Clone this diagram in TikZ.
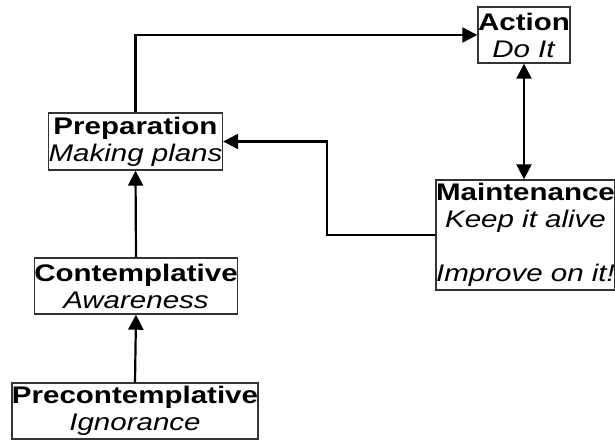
\documentclass[tikz,border=0pt]{standalone}
\usepackage{fontspec}
\setmainfont{Liberation Sans}[FakeStretch=1.23]
\usetikzlibrary{arrows.meta}

\begin{document}
\begin{tikzpicture}[x=1pt,y=-1pt,
    stage/.style={draw=black!80,line width=1.4pt,fill=white,inner sep=0pt,align=center,
        font=\fontsize{24}{27}\selectfont},
    flow/.style={line width=2.2pt,-{Triangle[length=15pt,width=15pt]}}]
    \useasboundingbox (0,0) rectangle (615,439);

    \node[stage,minimum width=92,minimum height=56] (act) at (524,35) {\textbf{Action}\\\textit{Do It}};
    \node[stage,minimum width=173,minimum height=57] (prep) at (135.5,141.5) {\textbf{Preparation}\\\textit{Making plans}};
    \node[stage,minimum width=178,minimum height=110] (maint) at (525.5,235) {\textbf{Maintenance}\\\textit{Keep it alive}\\[27pt]\textit{Improve on it!}};
    \node[stage,minimum width=202,minimum height=56] (cont) at (136,286) {\textbf{Contemplative}\\\textit{Awareness}};
    \node[stage,minimum width=244,minimum height=56] (pre) at (135,411) {\textbf{Precontemplative}\\\textit{Ignorance}};

    \draw[flow] (prep.north) |- (act.west);
    \draw[flow,{Triangle[length=15pt,width=15pt]}-{Triangle[length=15pt,width=15pt]}] (act.south) -- (act.south |- maint.north);
    \draw[flow] (maint.west) -- ++(-108,0) |- (prep.east);
    \draw[flow] (cont.north) -- (prep.south);
    \draw[flow] (pre.north) -- (cont.south);
\end{tikzpicture}
\end{document}
